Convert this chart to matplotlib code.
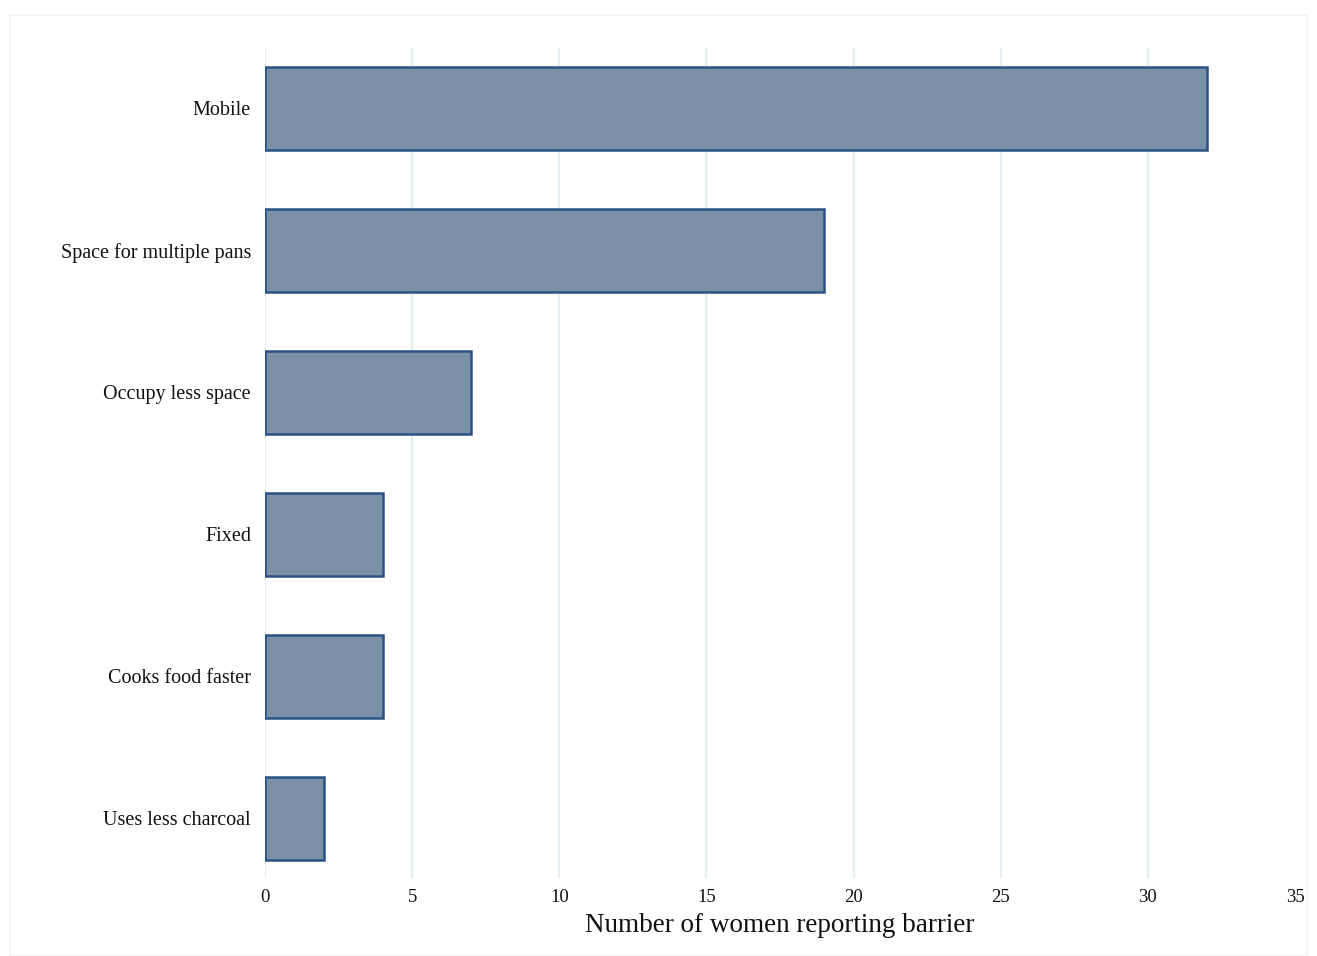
import matplotlib
matplotlib.use("Agg")
import matplotlib.pyplot as plt
from matplotlib.patches import Rectangle

categories = ["Mobile", "Space for multiple pans", "Occupy less space", "Fixed",
              "Cooks food faster", "Uses less charcoal"]
values = [32, 19, 7, 4, 4, 2]
xticks = [0, 5, 10, 15, 20, 25, 30, 35]
xlabel = "Number of women reporting barrier"

plt.rcParams['font.family'] = ['Liberation Serif', 'DejaVu Serif']

fig = plt.figure(figsize=(13.17, 9.56), dpi=100)
fig.patches.append(Rectangle((10/1317, 0), 1 - 20/1317, 1 - 15/956, transform=fig.transFigure,
                             fill=False, edgecolor="#f4f4f4", linewidth=1.2))
ax = fig.add_axes([265/1317, 1 - 878/956, (1295 - 265)/1317, (878 - 48)/956])

pos = list(range(len(categories)))
for t in xticks[:-1]:
    ax.axvline(t, color="#e5eef3", linewidth=1.6, zorder=0)
ax.barh(pos, values, height=0.585, color="#7b90a7", edgecolor="#2a5282", linewidth=1.8, zorder=2)

ax.set_xlim(0, 35)
ax.set_ylim(5.42, -0.426)
ax.set_yticks(pos)
ax.set_yticklabels(categories, fontsize=14.5, color="#111111")
ax.set_xticks(xticks)
ax.set_xticklabels([str(t) for t in xticks], fontsize=13.5, color="#111111")
ax.tick_params(axis="y", length=0, pad=10)
ax.tick_params(axis="x", length=0, pad=8)
for s in ax.spines.values():
    s.set_visible(False)
ax.set_xlabel(xlabel, fontsize=19.5, color="#111111", labelpad=5)

fig.savefig("out.png", dpi=100)
